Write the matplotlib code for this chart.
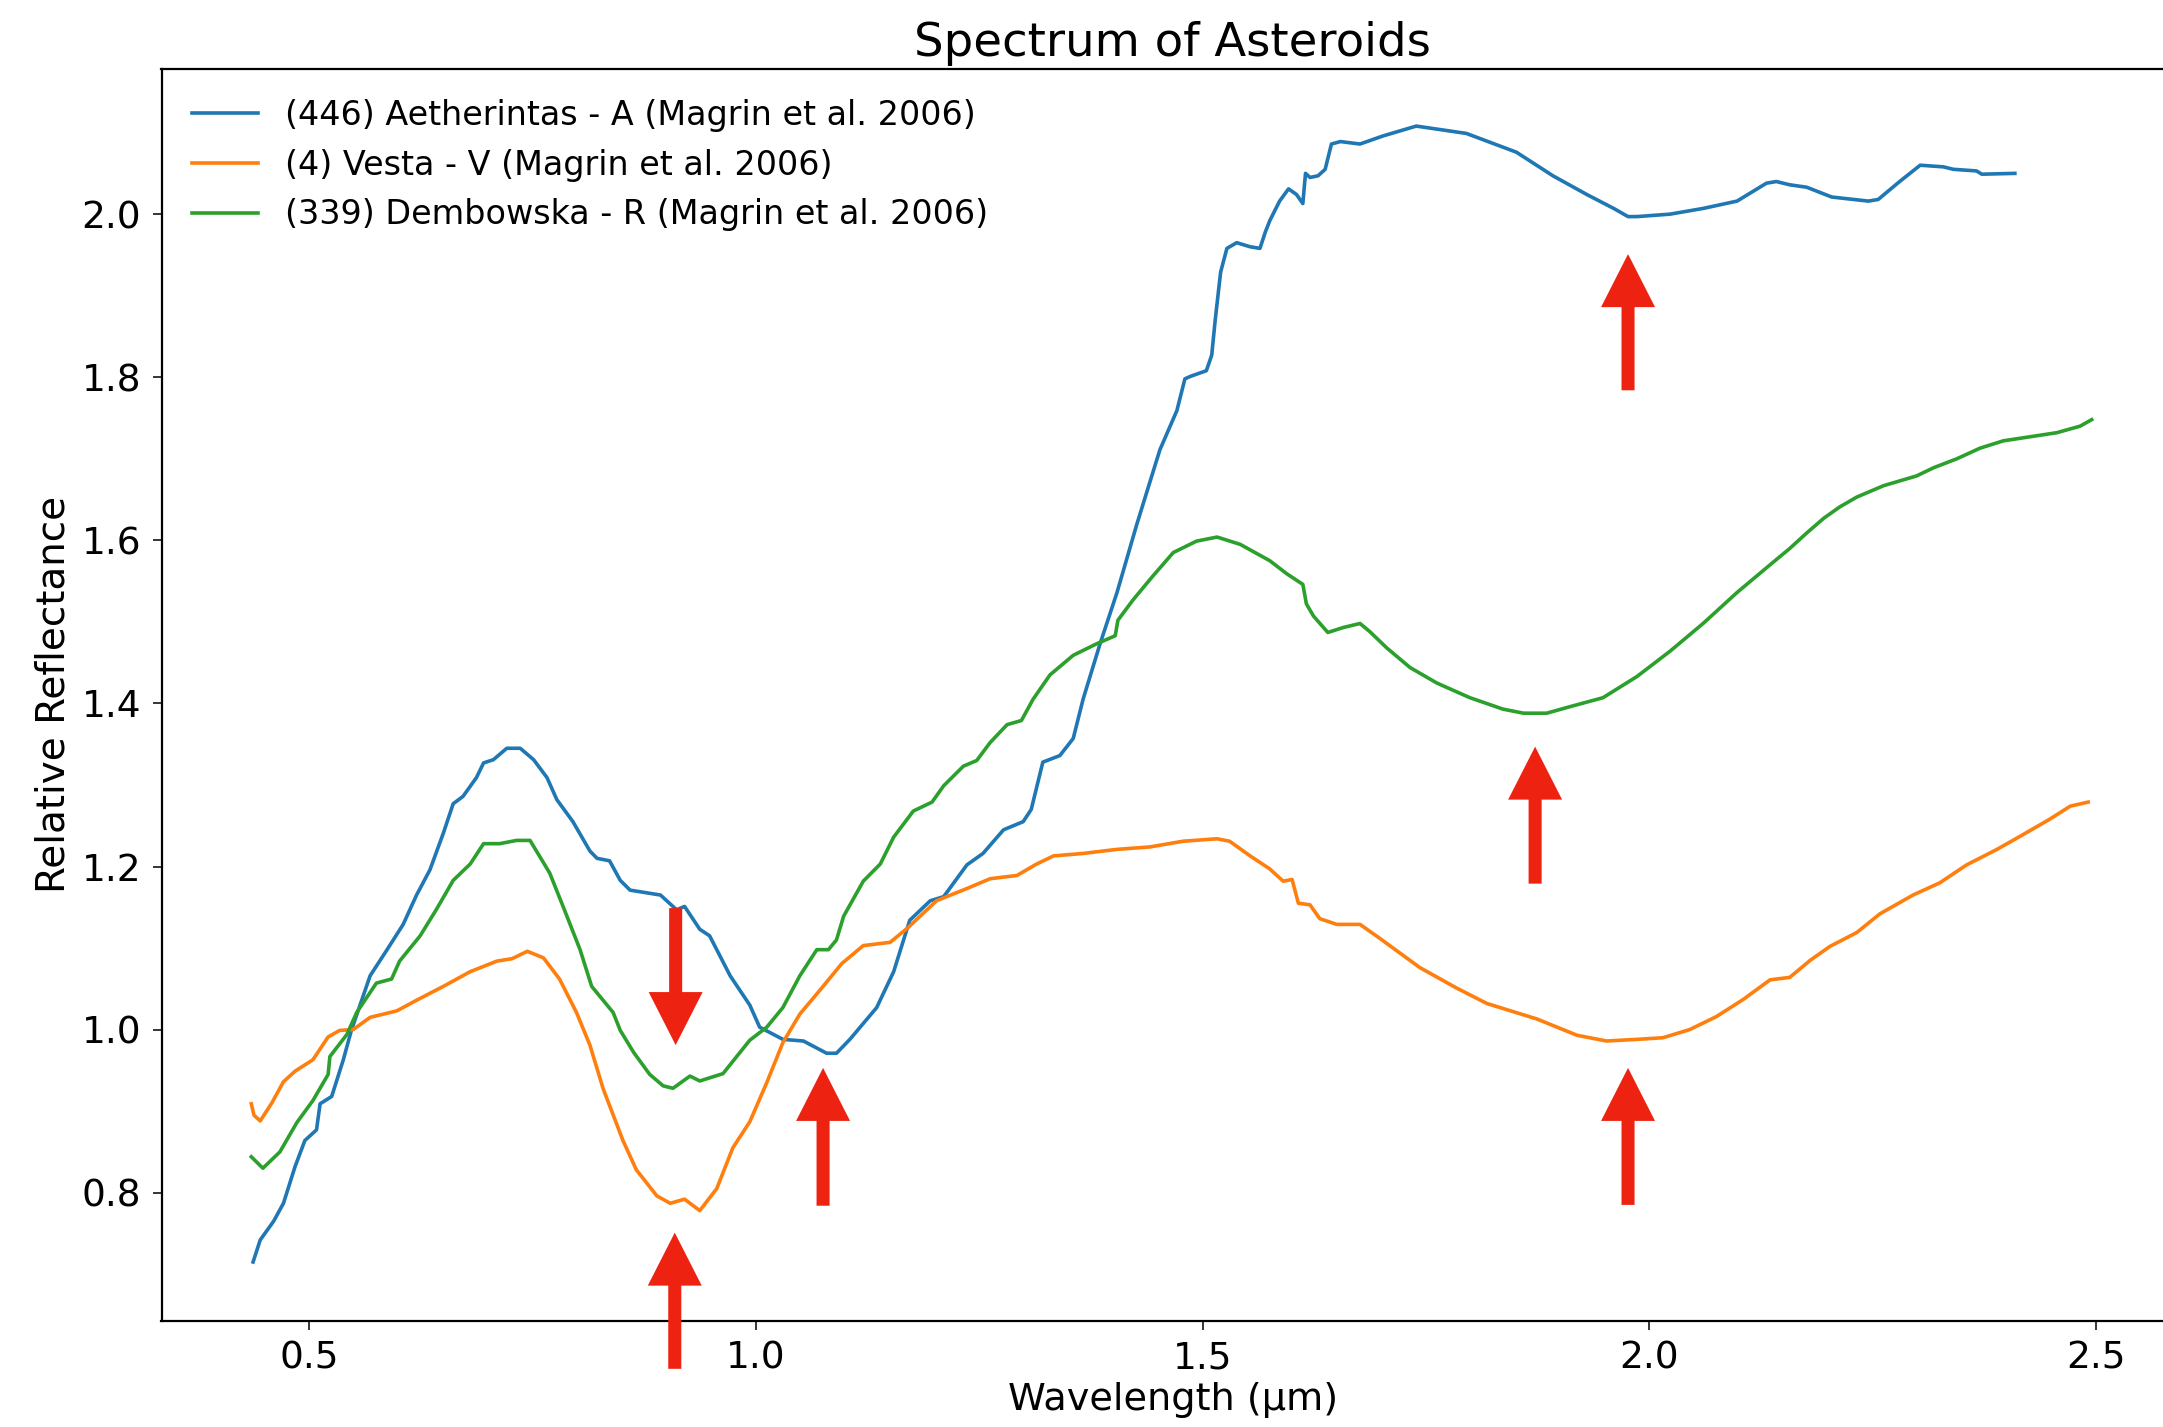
import matplotlib
matplotlib.use("Agg")
import matplotlib.pyplot as plt
from matplotlib.patches import FancyArrow

# (446) Aetherintas, A-type
aeth_wl = [0.437, 0.445, 0.460, 0.471, 0.484, 0.495, 0.508, 0.512, 0.525, 0.538,
           0.547, 0.568, 0.587, 0.605, 0.620, 0.635, 0.650, 0.661, 0.672, 0.687,
           0.695, 0.706, 0.721, 0.736, 0.751, 0.766, 0.777, 0.795, 0.814, 0.822,
           0.836, 0.848, 0.859, 0.893, 0.911, 0.920, 0.937, 0.948, 0.971, 0.993,
           1.004, 1.030, 1.053, 1.079, 1.090, 1.105, 1.135, 1.154, 1.172, 1.195,
           1.210, 1.236, 1.254, 1.277, 1.299, 1.308, 1.321, 1.340, 1.355, 1.366,
           1.385, 1.404, 1.426, 1.452, 1.471, 1.480, 1.486, 1.504, 1.510, 1.514,
           1.520, 1.527, 1.538, 1.553, 1.564, 1.570, 1.575, 1.586, 1.596, 1.605,
           1.612, 1.615, 1.620, 1.629, 1.637, 1.644, 1.654, 1.676, 1.702, 1.739,
           1.795, 1.851, 1.892, 1.930, 1.960, 1.976, 1.986, 2.023, 2.060, 2.098,
           2.131, 2.142, 2.157, 2.176, 2.204, 2.245, 2.256, 2.280, 2.303, 2.329,
           2.340, 2.366, 2.372, 2.409]
aeth_refl = [0.715, 0.742, 0.765, 0.787, 0.832, 0.864, 0.877, 0.909, 0.918, 0.963,
             0.999, 1.066, 1.098, 1.129, 1.165, 1.196, 1.241, 1.277, 1.286, 1.309,
             1.327, 1.331, 1.345, 1.345, 1.331, 1.309, 1.282, 1.255, 1.219, 1.210,
             1.207, 1.183, 1.171, 1.165, 1.147, 1.151, 1.123, 1.115, 1.066, 1.030,
             1.003, 0.988, 0.986, 0.971, 0.971, 0.988, 1.027, 1.071, 1.134, 1.158,
             1.163, 1.202, 1.216, 1.245, 1.255, 1.270, 1.328, 1.336, 1.357, 1.405,
             1.473, 1.536, 1.619, 1.711, 1.759, 1.798, 1.801, 1.808, 1.827, 1.871,
             1.929, 1.958, 1.965, 1.960, 1.958, 1.978, 1.992, 2.016, 2.031, 2.024,
             2.013, 2.050, 2.045, 2.047, 2.055, 2.086, 2.089, 2.086, 2.096, 2.108,
             2.099, 2.076, 2.047, 2.024, 2.007, 1.997, 1.997, 2.000, 2.007, 2.016,
             2.038, 2.040, 2.036, 2.033, 2.021, 2.016, 2.018, 2.040, 2.060, 2.058,
             2.055, 2.053, 2.049, 2.050]

# (4) Vesta, V-type
vesta_wl = [0.435, 0.438, 0.445, 0.458, 0.471, 0.484, 0.504, 0.521, 0.534, 0.549,
            0.568, 0.598, 0.620, 0.650, 0.680, 0.710, 0.727, 0.744, 0.762, 0.780,
            0.799, 0.814, 0.829, 0.851, 0.866, 0.889, 0.904, 0.920, 0.937, 0.956,
            0.974, 0.993, 1.012, 1.030, 1.049, 1.072, 1.096, 1.120, 1.150, 1.169,
            1.202, 1.236, 1.262, 1.292, 1.314, 1.333, 1.366, 1.404, 1.441, 1.478,
            1.516, 1.530, 1.553, 1.575, 1.590, 1.600, 1.607, 1.620, 1.631, 1.650,
            1.676, 1.698, 1.743, 1.784, 1.818, 1.874, 1.919, 1.952, 1.986, 2.015,
            2.045, 2.075, 2.105, 2.135, 2.157, 2.180, 2.202, 2.232, 2.258, 2.295,
            2.325, 2.355, 2.389, 2.418, 2.448, 2.471, 2.491]
vesta_refl = [0.909, 0.895, 0.888, 0.910, 0.936, 0.949, 0.963, 0.991, 0.999, 1.000,
              1.015, 1.023, 1.036, 1.053, 1.071, 1.084, 1.087, 1.096, 1.088, 1.062,
              1.021, 0.981, 0.927, 0.864, 0.828, 0.796, 0.787, 0.792, 0.778, 0.805,
              0.855, 0.887, 0.935, 0.984, 1.019, 1.049, 1.081, 1.103, 1.107, 1.124,
              1.158, 1.173, 1.185, 1.189, 1.203, 1.213, 1.216, 1.221, 1.224, 1.231,
              1.234, 1.231, 1.213, 1.197, 1.182, 1.184, 1.155, 1.153, 1.136, 1.129,
              1.129, 1.112, 1.076, 1.051, 1.032, 1.013, 0.993, 0.986, 0.988, 0.990,
              1.000, 1.016, 1.037, 1.061, 1.064, 1.085, 1.102, 1.119, 1.142, 1.165,
              1.180, 1.202, 1.221, 1.239, 1.258, 1.274, 1.279]

# (339) Dembowska, R-type
demb_wl = [0.435, 0.448, 0.467, 0.486, 0.504, 0.521, 0.523, 0.542, 0.553, 0.575,
           0.592, 0.601, 0.624, 0.642, 0.661, 0.680, 0.695, 0.713, 0.732, 0.747,
           0.769, 0.784, 0.803, 0.816, 0.840, 0.848, 0.863, 0.881, 0.896, 0.907,
           0.926, 0.937, 0.963, 0.982, 0.993, 1.012, 1.030, 1.049, 1.068, 1.081,
           1.090, 1.098, 1.120, 1.139, 1.154, 1.176, 1.197, 1.210, 1.232, 1.247,
           1.262, 1.281, 1.297, 1.310, 1.329, 1.355, 1.381, 1.402, 1.405, 1.422,
           1.444, 1.467, 1.493, 1.516, 1.542, 1.575, 1.594, 1.612, 1.616, 1.624,
           1.640, 1.657, 1.676, 1.687, 1.706, 1.732, 1.762, 1.799, 1.836, 1.859,
           1.885, 1.911, 1.948, 1.986, 2.023, 2.060, 2.098, 2.135, 2.157, 2.176,
           2.195, 2.213, 2.232, 2.262, 2.299, 2.318, 2.344, 2.370, 2.396, 2.426,
           2.456, 2.482, 2.495]
demb_refl = [0.844, 0.830, 0.850, 0.886, 0.913, 0.945, 0.967, 0.994, 1.021, 1.057,
             1.062, 1.084, 1.115, 1.147, 1.183, 1.203, 1.228, 1.228, 1.232, 1.232,
             1.192, 1.151, 1.098, 1.053, 1.021, 0.999, 0.972, 0.945, 0.931, 0.928,
             0.943, 0.937, 0.946, 0.972, 0.987, 1.003, 1.027, 1.066, 1.098, 1.098,
             1.110, 1.139, 1.182, 1.203, 1.236, 1.268, 1.279, 1.299, 1.323, 1.330,
             1.352, 1.374, 1.379, 1.405, 1.435, 1.459, 1.473, 1.483, 1.502, 1.527,
             1.556, 1.585, 1.599, 1.604, 1.595, 1.575, 1.559, 1.546, 1.522, 1.507,
             1.487, 1.493, 1.498, 1.488, 1.468, 1.444, 1.425, 1.407, 1.393, 1.388,
             1.388, 1.396, 1.407, 1.433, 1.464, 1.498, 1.536, 1.570, 1.590, 1.609,
             1.627, 1.641, 1.653, 1.667, 1.679, 1.689, 1.700, 1.713, 1.722, 1.727,
             1.732, 1.740, 1.748]

labels = ["(446) Aetherintas - A (Magrin et al. 2006)",
          "(4) Vesta - V (Magrin et al. 2006)",
          "(339) Dembowska - R (Magrin et al. 2006)"]

# absorption band markers: wavelength, arrow tail and arrow tip
band_wl = [0.909, 0.910, 1.075, 1.872, 1.976, 1.976]
band_tail = [0.584, 1.149, 0.784, 1.179, 0.785, 1.784]
band_tip = [0.751, 0.981, 0.953, 1.347, 0.953, 1.951]

W, H = 2163, 1427
fig = plt.figure(figsize=(W / 100, H / 100), dpi=100)
ax = fig.add_axes([161.5 / W, 106.3 / H, 2022.5 / W, 1251.7 / H])

lw = 2.6
ax.plot(aeth_wl, aeth_refl, color="#1f77b4", lw=lw, label=labels[0])
ax.plot(vesta_wl, vesta_refl, color="#ff7f0e", lw=lw, label=labels[1])
ax.plot(demb_wl, demb_refl, color="#2ca02c", lw=lw, label=labels[2])

for x, y0, y1 in zip(band_wl, band_tail, band_tip):
    ax.add_patch(FancyArrow(x, y0, 0, y1 - y0, width=0.0146, head_width=0.0604,
                            head_length=0.065, length_includes_head=True,
                            color="#ee2211", lw=0, clip_on=False, zorder=5))

ax.set_xlim(0.3345, 2.5983)
ax.set_ylim(0.643, 2.178)
ax.set_xticks([0.5, 1.0, 1.5, 2.0, 2.5])
ax.set_yticks([0.8, 1.0, 1.2, 1.4, 1.6, 1.8, 2.0])

ax.set_title("Spectrum of Asteroids", fontsize=33.5, pad=9.5)
ax.set_xlabel("Wavelength (µm)", fontsize=27.5, labelpad=4)
ax.set_ylabel("Relative Reflectance", fontsize=28, labelpad=7)
ax.tick_params(labelsize=27, length=6.5, width=1.1, pad=8)
for sp in ax.spines.values():
    sp.set_linewidth(1.6)

ax.legend(loc="upper left", fontsize=24, frameon=False)

fig.savefig("out.png", dpi=100)
